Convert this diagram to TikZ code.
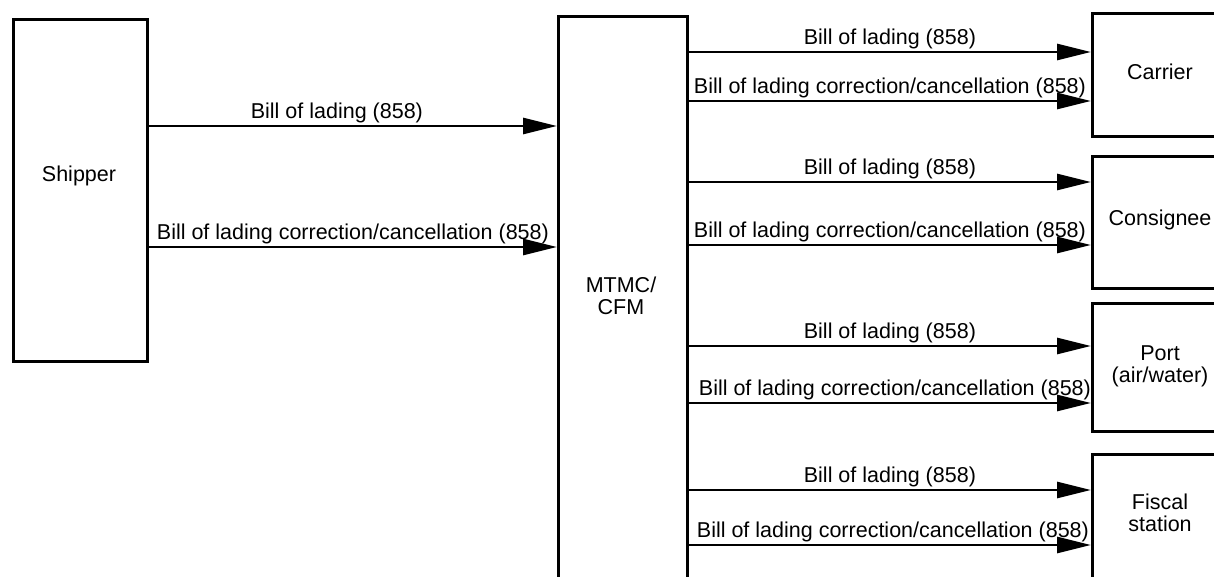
\documentclass[tikz,border=0pt]{standalone}
\usepackage{fontspec}
\setmainfont{Liberation Sans}
\usetikzlibrary{arrows.meta}
\begin{document}
\begin{tikzpicture}[x=1pt,y=-1pt,
  every node/.style={font=\fontsize{21.5}{22}\selectfont},
  box/.style={draw,line width=2.8pt,inner sep=0pt,anchor=north west},
  flow/.style={line width=2.9pt,-{Triangle[length=34pt,width=16pt]}},
  lbl/.style={above=1pt,inner sep=1pt},
  txt/.style={align=center,inner sep=0pt}]
\useasboundingbox (0,0) rectangle (1214,577);
\clip (0,0) rectangle (1214,577);
\fill[white] (0,0) rectangle (1214,577);

% boxes
\node[box,minimum width=134pt,minimum height=342pt] (ship) at (12,18) {};
\node[box,minimum width=129pt,minimum height=600pt] (mtmc) at (557,15) {};
\node[box,minimum width=140pt,minimum height=123pt] (carr) at (1091,12) {};
\node[box,minimum width=140pt,minimum height=132pt] (cons) at (1091,155) {};
\node[box,minimum width=140pt,minimum height=128pt] (port) at (1091,302) {};
\node[box,minimum width=140pt,minimum height=140pt] (fisc) at (1091,453) {};

% box texts
\node[txt] (tship) at (79,176) {Shipper};
\node[txt] (tmtmc) at (621,296) {MTMC/\\CFM};
\node[txt] (tcarr) at (1160,72) {Carrier};
\node[txt] (tcons) at (1160,220) {Consignee};
\node[txt] (tport) at (1160,366) {Port\\(air/water)};
\node[txt] (tfisc) at (1160,513) {Fiscal\\station};

% shipper -> MTMC/CFM
\draw[flow] (ship.east |- 0,126) -- node[lbl,xshift=-16pt] {Bill of lading (858)} (mtmc.west |- 0,126);
\draw[flow] (ship.east |- 0,247) -- node[lbl] {Bill of lading correction/cancellation (858)} (mtmc.west |- 0,247);

% MTMC/CFM -> receivers
\draw[flow] (mtmc.east |- 0,52) -- node[lbl] {Bill of lading (858)} (carr.west |- 0,52);
\draw[flow] (mtmc.east |- 0,101) -- node[lbl] {Bill of lading correction/cancellation (858)} (carr.west |- 0,101);
\draw[flow] (mtmc.east |- 0,182) -- node[lbl] {Bill of lading (858)} (cons.west |- 0,182);
\draw[flow] (mtmc.east |- 0,245) -- node[lbl] {Bill of lading correction/cancellation (858)} (cons.west |- 0,245);
\draw[flow] (mtmc.east |- 0,346) -- node[lbl] {Bill of lading (858)} (port.west |- 0,346);
\draw[flow] (mtmc.east |- 0,403) -- node[lbl,xshift=5pt] {Bill of lading correction/cancellation (858)} (port.west |- 0,403);
\draw[flow] (mtmc.east |- 0,490) -- node[lbl] {Bill of lading (858)} (fisc.west |- 0,490);
\draw[flow] (mtmc.east |- 0,545) -- node[lbl,xshift=3pt] {Bill of lading correction/cancellation (858)} (fisc.west |- 0,545);
\end{tikzpicture}
\end{document}
